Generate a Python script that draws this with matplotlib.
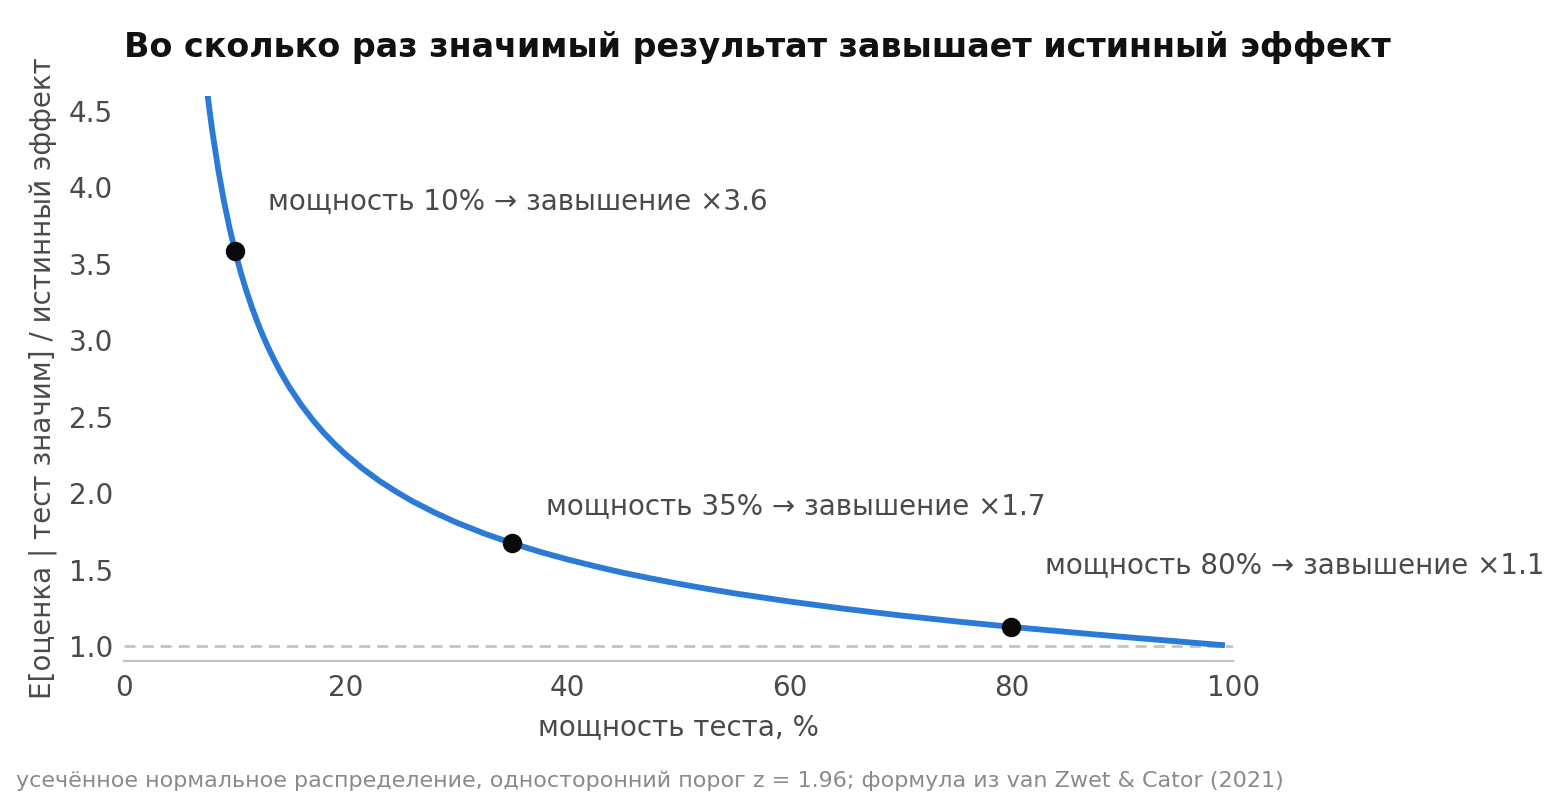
import matplotlib
matplotlib.use("Agg")
import matplotlib.pyplot as plt

# values
power = [7.5, 7.75, 8, 8.5, 9, 9.5, 10, 10.5, 11, 11.5, 12, 12.5, 13, 13.5, 14, 14.5,
         15, 16, 17, 18, 19, 20, 21.5, 23, 24.5, 26, 28, 30, 32.5, 35, 37.5,
         40, 42.5, 45, 47.5, 50, 52.5, 55, 60, 65, 70, 75, 80, 85, 90, 95, 99]
ratio = [4.626, 4.481, 4.348, 4.114, 3.913, 3.739, 3.586, 3.451, 3.330, 3.222, 3.123,
         3.034, 2.952, 2.877, 2.807, 2.743, 2.683, 2.575, 2.480, 2.395, 2.320, 2.252,
         2.161, 2.081, 2.011, 1.947, 1.873, 1.807, 1.735, 1.672, 1.616, 1.566, 1.521,
         1.479, 1.442, 1.407, 1.375, 1.345, 1.291, 1.243, 1.200, 1.161, 1.125, 1.092,
         1.060, 1.030, 1.006]

mark_power = [10, 35, 80]
mark_ratio = [3.586, 1.672, 1.125]
mark_text = ["мощность 10% → завышение ×3.6",
             "мощность 35% → завышение ×1.7",
             "мощность 80% → завышение ×1.1"]
text_y = [3.86, 1.86, 1.48]

fig = plt.figure(figsize=(7.8, 4), dpi=200)
ax = fig.add_axes([0.0795, 0.1734, 0.711, 0.707])

ax.plot(power, ratio, color="#2b7bd6", lw=2.1, zorder=3, solid_joinstyle="round")
ax.axhline(1.0, color="#c4c4bc", lw=1.0, ls=(0, (4, 2.5)), zorder=1)
ax.scatter(mark_power, mark_ratio, s=36, color="#0a0a0a", zorder=4)
for p, t, ty in zip(mark_power, mark_text, text_y):
    ax.text(p + 3, ty, t, fontsize=10, color="#4a4a4a", va="baseline", ha="left")

ax.set_xlim(0, 100)
ax.set_ylim(0.9, 4.6)
ax.set_xticks(range(0, 101, 20))
ax.set_yticks([1.0, 1.5, 2.0, 2.5, 3.0, 3.5, 4.0, 4.5])
ax.set_yticklabels(["1.0", "1.5", "2.0", "2.5", "3.0", "3.5", "4.0", "4.5"])
ax.tick_params(length=0, labelsize=10, colors="#4a4a4a", pad=4.5)
ax.tick_params(axis="y", pad=4)
for s in ["top", "right", "left"]:
    ax.spines[s].set_visible(False)
ax.spines["bottom"].set_color("#c4c4bc")
ax.spines["bottom"].set_linewidth(0.8)

ax.set_xlabel("мощность теста, %", fontsize=10, color="#4a4a4a")
ax.set_ylabel("E[оценка | тест значим] / истинный эффект", fontsize=10, color="#4a4a4a")
ax.set_title("Во сколько раз значимый результат завышает истинный эффект",
             loc="left", fontsize=12, fontweight="bold", color="#111111", pad=14)
fig.text(0.0103, 0.016, "усечённое нормальное распределение, односторонний порог z = 1.96; "
         "формула из van Zwet & Cator (2021)", fontsize=8, color="#8a8a8a")

fig.savefig("out.png", dpi=200)
